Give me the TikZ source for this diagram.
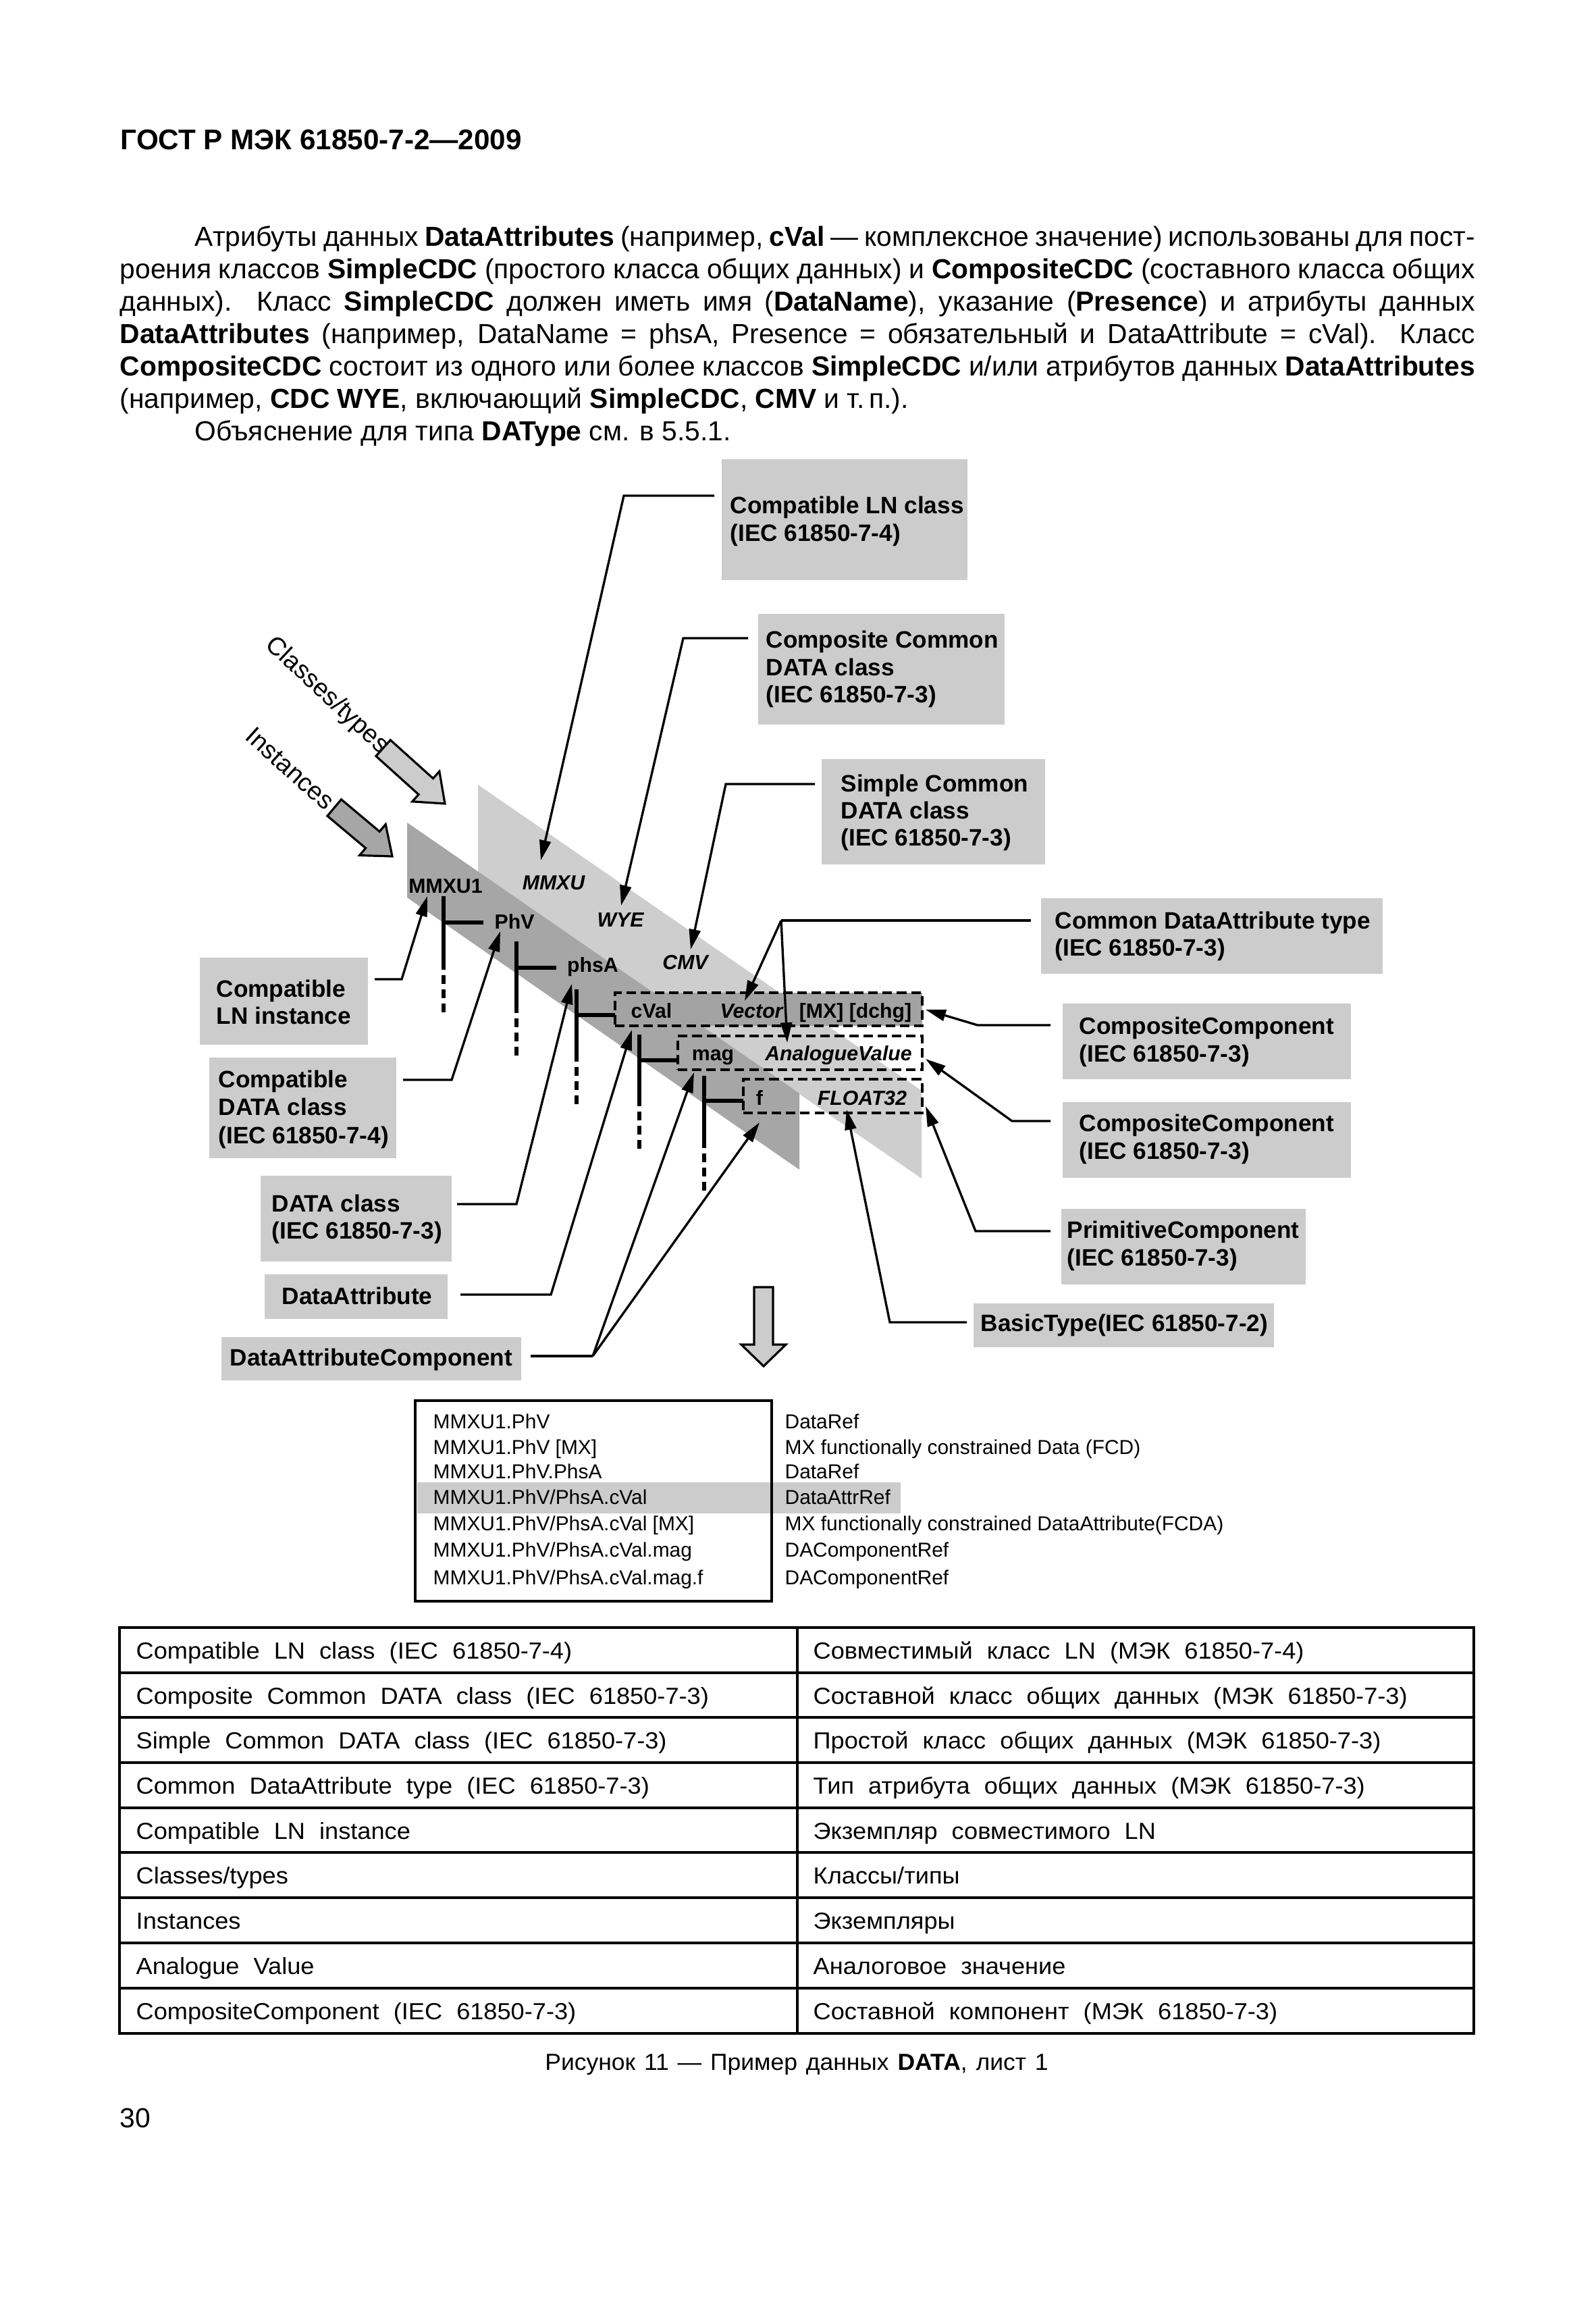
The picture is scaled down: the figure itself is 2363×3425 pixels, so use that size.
\documentclass[tikz,border=0pt]{standalone}
\usepackage{fontspec}
\setmainfont{Liberation Sans}
\newfontfamily\tabfont[WordSpace=2.1, FakeStretch=1.05]{Liberation Sans}
\newfontfamily\capfont[WordSpace=1.3, FakeStretch=1.03]{Liberation Sans}
\usetikzlibrary{arrows.meta,fit}
\definecolor{boxgray}{HTML}{CCCCCC}
\definecolor{lightband}{HTML}{CECECE}
\definecolor{darkband}{HTML}{A6A6A6}
\definecolor{cvalgray}{HTML}{A3A3A3}
\tikzset{
  hdr/.style={anchor=base west, inner sep=0, font=\fontsize{12}{14}\selectfont\bfseries},
  body/.style={anchor=base west, inner sep=0, font=\fontsize{11.6}{13}\selectfont},
  lbl/.style={anchor=base west, inner sep=0, font=\fontsize{10}{12}\selectfont\bfseries},
  tl/.style={anchor=base, inner sep=0, font=\fontsize{8.6}{10}\selectfont\bfseries},
  tli/.style={anchor=base, inner sep=0, font=\fontsize{8.6}{10}\selectfont\bfseries\itshape},
  rotlbl/.style={inner sep=0, font=\fontsize{10.7}{12}\selectfont},
  tabtxt/.style={anchor=base west, inner sep=0, font={\tabfont\fontsize{9.8}{11}\selectfont}},
  captxt/.style={anchor=base, inner sep=0, font={\capfont\fontsize{9.8}{11}\selectfont}},
  dtab/.style={anchor=base west, inner sep=0, font={\fontsize{8.5}{10}\selectfont}},
  lead/.style={line width=0.95pt, -{Triangle[length=8.5pt,width=4.8pt]}},
  leadplain/.style={line width=0.95pt},
  treeline/.style={line width=1.6pt},
  treedash/.style={line width=1.6pt, dash pattern=on 3.7pt off 2.3pt},
  dbox/.style={draw, line width=1.15pt, dash pattern=on 4pt off 2pt, inner sep=0},
  gbox/.style={fill=boxgray, draw=none, inner sep=0},
  blockarrow/.style={line width=0.9pt, line join=miter}
}
\begin{document}
\begin{tikzpicture}[x=0.01cm, y=-0.01cm]
\useasboundingbox (0,0) rectangle (2363,3425);
\fill[white] (0,0) rectangle (2363,3425);

% ---------- header and body text ----------
\node[hdr] (hdr) at (178,222) {ГОСТ Р МЭК 61850-7-2—2009};
\node[body] (p1) at (288,365) {\makebox[18.95cm][s]{Атрибуты данных \textbf{DataAttributes} (например, \textbf{cVal} — комплексное значение) использованы для пост-}};
\node[body] (p2) at (177,413) {\makebox[20.06cm][s]{роения классов \textbf{SimpleCDC} (простого класса общих данных) и \textbf{CompositeCDC} (составного класса общих}};
\node[body] (p3) at (177,461) {\makebox[20.06cm][s]{данных). Класс \textbf{SimpleCDC} должен иметь имя (\textbf{DataName}), указание (\textbf{Presence}) и атрибуты данных}};
\node[body] (p4) at (177,509) {\makebox[20.06cm][s]{\textbf{DataAttributes} (например, DataName = phsA, Presence = обязательный и DataAttribute = cVal). Класс}};
\node[body] (p5) at (177,557) {\makebox[20.06cm][s]{\textbf{CompositeCDC} состоит из одного или более классов \textbf{SimpleCDC} и/или атрибутов данных \textbf{DataAttributes}}};
\node[body] (p6) at (177,605) {(например, \textbf{CDC WYE}, включающий \textbf{SimpleCDC}, \textbf{CMV} и т.\,п.).};
\node[body] (p7) at (288,653) {Объяснение для типа \textbf{DAType} см. в 5.5.1.};

% ---------- bands ----------
\fill[lightband] (708,1162) -- (1365,1615) -- (1365,1745) -- (708,1291) -- cycle;
\fill[darkband] (603,1218) -- (1184,1619) -- (1184,1732) -- (603,1329) -- cycle;

% ---------- block arrows ----------
\begin{scope}[shift={(659,1190)}, rotate=-42]
  \filldraw[blockarrow, fill=boxgray] (-123,-16) -- (-38,-16) -- (-38,-30) -- (0,0) -- (-38,30) -- (-38,16) -- (-123,16) -- cycle;
\end{scope}
\begin{scope}[shift={(581,1268)}, rotate=-40]
  \filldraw[blockarrow, fill=darkband] (-112,-16) -- (-38,-16) -- (-38,-30) -- (0,0) -- (-38,30) -- (-38,16) -- (-112,16) -- cycle;
\end{scope}
\node[rotlbl, rotate=-43] (tCls) at (484,1030) {Classes/types};
\node[rotlbl, rotate=-42] (tIns) at (430,1138) {Instances};

% ---------- attribute boxes ----------
\node[dbox, fill=cvalgray, fit={(911,1470) (1366,1519)}] (boxcVal) {};
\node[dbox, fit={(1004,1534) (1366,1584)}] (boxmag) {};
\node[dbox, fit={(1101,1598) (1366,1648)}] (boxf) {};

% ---------- tree lines ----------
\draw[treeline] (657,1327) -- (657,1436);
\draw[treedash] (657,1444) -- (657,1501);
\draw[treeline] (657,1366) -- (716,1366);
\draw[treeline] (765,1394) -- (765,1500);
\draw[treedash] (765,1508) -- (765,1567);
\draw[treeline] (765,1433) -- (824,1433);
\draw[treeline] (854,1465) -- (854,1572);
\draw[treedash] (854,1580) -- (854,1638);
\draw[treeline] (854,1503) -- (911,1503);
\draw[treeline] (947,1532) -- (947,1638);
\draw[treedash] (947,1646) -- (947,1704);
\draw[treeline] (947,1570) -- (1004,1570);
\draw[treeline] (1043,1593) -- (1043,1700);
\draw[treedash] (1043,1708) -- (1043,1767);
\draw[treeline] (1043,1630) -- (1101,1630);

% ---------- tree labels ----------
\node[tl] (nMMXU1) at (660,1322) {MMXU1};
\node[tli] (nMMXU) at (820,1317) {MMXU};
\node[tl] (nPhV) at (762,1375) {PhV};
\node[tli] (nWYE) at (919,1372) {WYE};
\node[tl] (nphsA) at (878,1439) {phsA};
\node[tli] (nCMV) at (1015,1435) {CMV};
\node[tl] (ncVal) at (965,1507) {cVal};
\node[tli] (nVector) at (1113,1507) {Vector};
\node[tl] (nMX) at (1267,1507) {[MX] [dchg]};
\node[tl] (nmag) at (1056,1570) {mag};
\node[tli] (nAV) at (1242,1570) {AnalogueValue};
\node[tl] (nf) at (1125,1636) {f};
\node[tli] (nFL) at (1277,1636) {FLOAT32};

% ---------- grey label boxes (right) ----------
\node[gbox, fit={(1069,680) (1433,859)}] (bLNc) {};
\node[lbl] (bLNc1) at (1081,761) {Compatible LN class};
\node[lbl] (bLNc2) at (1081,801) {(IEC 61850-7-4)};
\node[gbox, fit={(1123,909) (1488,1073)}] (bCCD) {};
\node[lbl] (bCCD1) at (1134,959) {Composite Common};
\node[lbl] (bCCD2) at (1134,1000) {DATA class};
\node[lbl] (bCCD3) at (1134,1040) {(IEC 61850-7-3)};
\node[gbox, fit={(1217,1124) (1548,1280)}] (bSCD) {};
\node[lbl] (bSCD1) at (1245,1172) {Simple Common};
\node[lbl] (bSCD2) at (1245,1212) {DATA class};
\node[lbl] (bSCD3) at (1245,1252) {(IEC 61850-7-3)};
\node[gbox, fit={(1542,1330) (2048,1442)}] (bCDA) {};
\node[lbl] (bCDA1) at (1562,1375) {Common DataAttribute type};
\node[lbl] (bCDA2) at (1562,1415) {(IEC 61850-7-3)};
\node[gbox, fit={(1574,1486) (2001,1598)}] (bCC1) {};
\node[lbl] (bCC1a) at (1598,1531) {CompositeComponent};
\node[lbl] (bCC1b) at (1598,1572) {(IEC 61850-7-3)};
\node[gbox, fit={(1574,1632) (2001,1744)}] (bCC2) {};
\node[lbl] (bCC2a) at (1598,1675) {CompositeComponent};
\node[lbl] (bCC2b) at (1598,1716) {(IEC 61850-7-3)};
\node[gbox, fit={(1572,1790) (1934,1902)}] (bPC) {};
\node[lbl] (bPC1) at (1580,1833) {PrimitiveComponent};
\node[lbl] (bPC2) at (1580,1874) {(IEC 61850-7-3)};
\node[gbox, fit={(1442,1930) (1887,1995)}] (bBT) {};
\node[lbl] (bBT1) at (1452,1971) {BasicType(IEC 61850-7-2)};

% ---------- grey label boxes (left) ----------
\node[gbox, fit={(296,1418) (545,1547)}] (bLNi) {};
\node[lbl] (bLNi1) at (320,1476) {Compatible};
\node[lbl] (bLNi2) at (320,1516) {LN instance};
\node[gbox, fit={(310,1566) (587,1715)}] (bCDc) {};
\node[lbl] (bCDc1) at (323,1610) {Compatible};
\node[lbl] (bCDc2) at (323,1651) {DATA class};
\node[lbl] (bCDc3) at (323,1693) {(IEC 61850-7-4)};
\node[gbox, fit={(386,1741) (669,1868)}] (bDc) {};
\node[lbl] (bDc1) at (402,1794) {DATA class};
\node[lbl] (bDc2) at (402,1834) {(IEC 61850-7-3)};
\node[gbox, fit={(392,1887) (663,1953)}] (bDA) {};
\node[lbl] (bDA1) at (417,1931) {DataAttribute};
\node[gbox, fit={(328,1980) (772,2044)}] (bDAC) {};
\node[lbl] (bDAC1) at (340,2022) {DataAttributeComponent};

% ---------- connector coordinates ----------
\coordinate (aMMXU) at (801,1274);
\coordinate (aWYE) at (920,1341);
\coordinate (aCMV) at (1023,1406);
\coordinate (aVector) at (1103,1482);
\coordinate (aAV) at (1166,1544);
\coordinate (acValR) at (1371,1495);
\coordinate (amagR) at (1371,1568);
\coordinate (afR) at (1371,1638);
\coordinate (aFL) at (1254,1643);
\coordinate (aMMXU1) at (633,1327);
\coordinate (aPhV) at (741,1379);
\coordinate (aphsA) at (847,1457);
\coordinate (acVal) at (936,1525);
\coordinate (amag) at (1028,1588);
\coordinate (af) at (1125,1662);

\coordinate (cLNc0) at (1058,734);   \coordinate (cLNc1) at (924,734);
\coordinate (cCCD0) at (1108,945);   \coordinate (cCCD1) at (1012,945);
\coordinate (cSCD0) at (1207,1161);  \coordinate (cSCD1) at (1075,1161);
\coordinate (cCDA0) at (1527,1363);  \coordinate (cCDA1) at (1157,1363);
\coordinate (cCC10) at (1556,1518);  \coordinate (cCC11) at (1448,1518);
\coordinate (cCC20) at (1556,1660);  \coordinate (cCC21) at (1499,1660);
\coordinate (cPC0) at (1556,1823);   \coordinate (cPC1) at (1445,1823);
\coordinate (cBT0) at (1432,1958);   \coordinate (cBT1) at (1318,1958);
\coordinate (cLNi0) at (555,1450);   \coordinate (cLNi1) at (595,1450);
\coordinate (cCDc0) at (597,1599);   \coordinate (cCDc1) at (669,1599);
\coordinate (cDc0) at (677,1783);    \coordinate (cDc1) at (765,1783);
\coordinate (cDA0) at (682,1917);    \coordinate (cDA1) at (816,1917);
\coordinate (cDAC0) at (786,2008);   \coordinate (cDAC1) at (878,2008);

% ---------- connectors ----------
\draw[lead] (cLNc0) -- (cLNc1) -- (aMMXU);
\draw[lead] (cCCD0) -- (cCCD1) -- (aWYE);
\draw[lead] (cSCD0) -- (cSCD1) -- (aCMV);
\draw[leadplain] (cCDA0) -- (cCDA1);
\draw[lead] (cCDA1) -- (aVector);
\draw[lead] (cCDA1) -- (aAV);
\draw[lead] (cCC10) -- (cCC11) -- (acValR);
\draw[lead] (cCC20) -- (cCC21) -- (amagR);
\draw[lead] (cPC0) -- (cPC1) -- (afR);
\draw[lead] (cBT0) -- (cBT1) -- (aFL);
\draw[lead] (cLNi0) -- (cLNi1) -- (aMMXU1);
\draw[lead] (cCDc0) -- (cCDc1) -- (aPhV);
\draw[lead] (cDc0) -- (cDc1) -- (aphsA);
\draw[lead] (cDA0) -- (cDA1) -- (acVal);
\draw[leadplain] (cDAC0) -- (cDAC1);
\draw[lead] (cDAC1) -- (amag);
\draw[lead] (cDAC1) -- (af);

% ---------- down block arrow ----------
\filldraw[blockarrow, fill=boxgray] (1117,1906) -- (1145,1906) -- (1145,1991) -- (1164,1991) -- (1131,2023) -- (1098,1991) -- (1117,1991) -- cycle;

% ---------- reference table in figure ----------
\fill[boxgray] (618,2195) rectangle (1334,2241);
\draw[line width=1pt] (615,2074) rectangle (1143,2371);
\node[dtab] (r1a) at (641,2115) {MMXU1.PhV};
\node[dtab] (r2a) at (641,2153) {MMXU1.PhV [MX]};
\node[dtab] (r3a) at (641,2189) {MMXU1.PhV.PhsA};
\node[dtab] (r4a) at (641,2227) {MMXU1.PhV/PhsA.cVal};
\node[dtab] (r5a) at (641,2266) {MMXU1.PhV/PhsA.cVal [MX]};
\node[dtab] (r6a) at (641,2305) {MMXU1.PhV/PhsA.cVal.mag};
\node[dtab] (r7a) at (641,2346) {MMXU1.PhV/PhsA.cVal.mag.f};
\node[dtab] (r1b) at (1162,2115) {DataRef};
\node[dtab] (r2b) at (1162,2153) {MX functionally constrained Data (FCD)};
\node[dtab] (r3b) at (1162,2189) {DataRef};
\node[dtab] (r4b) at (1162,2227) {DataAttrRef};
\node[dtab] (r5b) at (1162,2266) {MX functionally constrained DataAttribute(FCDA)};
\node[dtab] (r6b) at (1162,2305) {DAComponentRef};
\node[dtab] (r7b) at (1162,2346) {DAComponentRef};

% ---------- translation table ----------
\draw[line width=1.1pt] (177,2410) rectangle (2183,3011);
\foreach \yy in {2477,2543,2610,2677,2743,2810,2877,2944}
  \draw[line width=0.9pt] (177,\yy) -- (2183,\yy);
\draw[line width=0.9pt] (1181,2410) -- (1181,3011);
\node[tabtxt] (t1a) at (201,2456) {Compatible LN class (IEC 61850-7-4)};
\node[tabtxt] (t2a) at (201,2523) {Composite Common DATA class (IEC 61850-7-3)};
\node[tabtxt] (t3a) at (201,2589) {Simple Common DATA class (IEC 61850-7-3)};
\node[tabtxt] (t4a) at (201,2656) {Common DataAttribute type (IEC 61850-7-3)};
\node[tabtxt] (t5a) at (201,2723) {Compatible LN instance};
\node[tabtxt] (t6a) at (201,2789) {Classes/types};
\node[tabtxt] (t7a) at (201,2856) {Instances};
\node[tabtxt] (t8a) at (201,2923) {Analogue Value};
\node[tabtxt] (t9a) at (201,2990) {CompositeComponent (IEC 61850-7-3)};
\node[tabtxt] (t1b) at (1204,2456) {Совместимый класс LN (МЭК 61850-7-4)};
\node[tabtxt] (t2b) at (1204,2523) {Составной класс общих данных (МЭК 61850-7-3)};
\node[tabtxt] (t3b) at (1204,2589) {Простой класс общих данных (МЭК 61850-7-3)};
\node[tabtxt] (t4b) at (1204,2656) {Тип атрибута общих данных (МЭК 61850-7-3)};
\node[tabtxt] (t5b) at (1204,2723) {Экземпляр совместимого LN};
\node[tabtxt] (t6b) at (1204,2789) {Классы/типы};
\node[tabtxt] (t7b) at (1204,2856) {Экземпляры};
\node[tabtxt] (t8b) at (1204,2923) {Аналоговое значение};
\node[tabtxt] (t9b) at (1204,2990) {Составной компонент (МЭК 61850-7-3)};

% ---------- caption and page number ----------
\node[captxt] (cap) at (1180,3065) {Рисунок 11 — Пример данных \textbf{DATA}, лист 1};
\node[body] (pg) at (177,3150) {30};
\end{tikzpicture}
\end{document}
